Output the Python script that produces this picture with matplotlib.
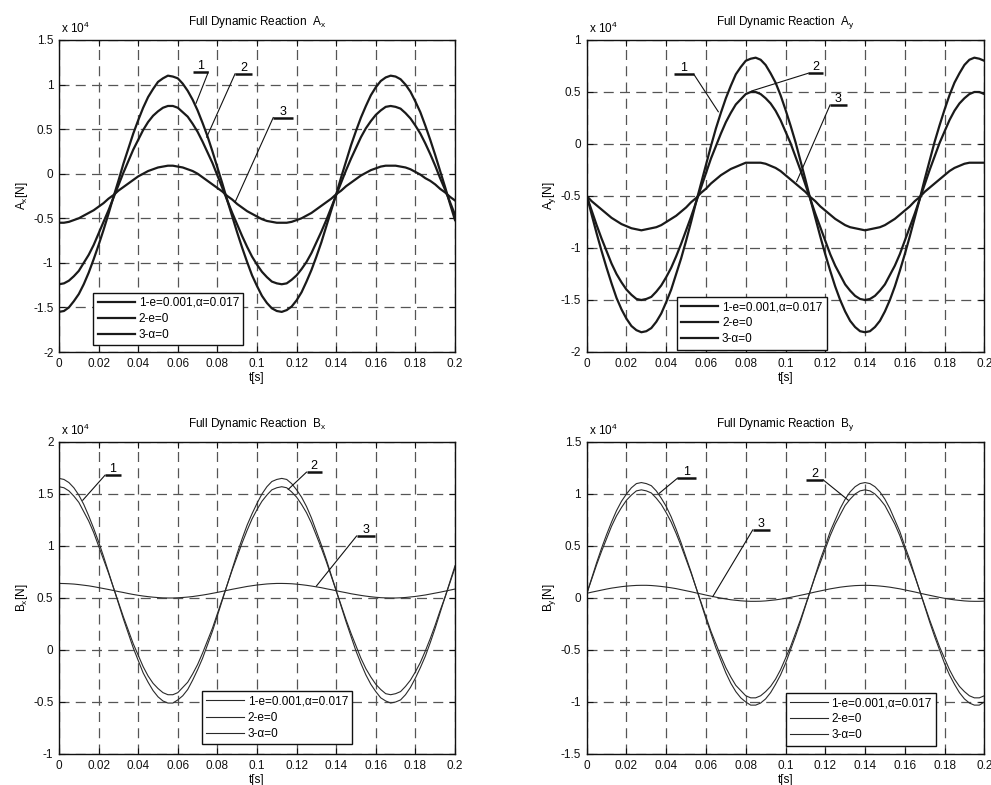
import numpy as np
import matplotlib
matplotlib.use('Agg')
import matplotlib.pyplot as plt

plt.rcParams['font.family'] = ['Liberation Sans', 'DejaVu Sans']
plt.rcParams['mathtext.default'] = 'regular'
plt.rcParams['axes.unicode_minus'] = False

# time samples [s], every 2.5 ms
t = np.linspace(0, 0.2, 81)

# ---- Full dynamic reaction A_x (x 1e4 N) ----
ax_1 = [-1.55, -1.54, -1.50, -1.43, -1.35, -1.24, -1.11, -0.96, -0.80, -0.63,
        -0.45, -0.26, -0.08, 0.11, 0.28, 0.45, 0.60, 0.74, 0.86, 0.95,
        1.03, 1.07, 1.10, 1.09, 1.07, 1.01, 0.93, 0.83, 0.71, 0.57,
        0.42, 0.25, 0.07, -0.11, -0.30, -0.48, -0.66, -0.83, -0.99, -1.14,
        -1.26, -1.37, -1.45, -1.51, -1.54, -1.55, -1.53, -1.49, -1.42, -1.33,
        -1.21, -1.08, -0.93, -0.77, -0.59, -0.41, -0.23, -0.04, 0.14, 0.32,
        0.48, 0.63, 0.76, 0.88, 0.97, 1.04, 1.08, 1.10, 1.09, 1.06,
        1.00, 0.92, 0.81, 0.69, 0.54, 0.38, 0.21, 0.03, -0.15, -0.34,
        -0.52]
ax_2 = [-1.24, -1.23, -1.20, -1.15, -1.09, -1.00, -0.91, -0.80, -0.67, -0.54,
        -0.41, -0.27, -0.13, 0.01, 0.14, 0.27, 0.38, 0.49, 0.58, 0.65,
        0.70, 0.74, 0.76, 0.76, 0.74, 0.69, 0.64, 0.56, 0.47, 0.36,
        0.24, 0.12, -0.02, -0.16, -0.30, -0.44, -0.57, -0.70, -0.82, -0.93,
        -1.02, -1.10, -1.16, -1.21, -1.23, -1.24, -1.23, -1.19, -1.14, -1.07,
        -0.99, -0.89, -0.77, -0.65, -0.52, -0.38, -0.24, -0.10, 0.04, 0.17,
        0.29, 0.41, 0.51, 0.59, 0.66, 0.71, 0.75, 0.76, 0.75, 0.73,
        0.68, 0.62, 0.54, 0.45, 0.34, 0.22, 0.09, -0.05, -0.18, -0.32,
        -0.46]
ax_3 = [-0.55, -0.55, -0.54, -0.52, -0.50, -0.47, -0.44, -0.41, -0.37, -0.33,
        -0.28, -0.24, -0.19, -0.15, -0.11, -0.07, -0.03, 0.00, 0.03, 0.05,
        0.07, 0.08, 0.09, 0.09, 0.08, 0.07, 0.05, 0.03, 0.00, -0.04,
        -0.08, -0.12, -0.16, -0.20, -0.25, -0.29, -0.34, -0.38, -0.42, -0.45,
        -0.48, -0.51, -0.53, -0.54, -0.55, -0.55, -0.55, -0.54, -0.52, -0.50,
        -0.47, -0.44, -0.40, -0.36, -0.32, -0.28, -0.23, -0.19, -0.14, -0.10,
        -0.06, -0.02, 0.01, 0.04, 0.06, 0.08, 0.09, 0.09, 0.09, 0.08,
        0.07, 0.05, 0.02, -0.01, -0.05, -0.08, -0.12, -0.17, -0.21, -0.26,
        -0.30]

# ---- Full dynamic reaction A_y ----
ay_1 = [-0.49, -0.68, -0.86, -1.03, -1.19, -1.34, -1.48, -1.59, -1.68, -1.75,
        -1.79, -1.81, -1.80, -1.77, -1.71, -1.63, -1.52, -1.40, -1.25, -1.10,
        -0.93, -0.75, -0.56, -0.38, -0.20, -0.02, 0.15, 0.30, 0.44, 0.56,
        0.67, 0.74, 0.80, 0.82, 0.83, 0.81, 0.76, 0.68, 0.59, 0.47,
        0.33, 0.18, 0.02, -0.16, -0.34, -0.53, -0.71, -0.89, -1.06, -1.22,
        -1.37, -1.50, -1.61, -1.70, -1.76, -1.80, -1.81, -1.80, -1.76, -1.70,
        -1.61, -1.50, -1.37, -1.22, -1.06, -0.89, -0.71, -0.53, -0.34, -0.16,
        0.02, 0.18, 0.33, 0.47, 0.59, 0.68, 0.76, 0.81, 0.83, 0.82,
        0.80]
ay_2 = [-0.50, -0.64, -0.78, -0.91, -1.03, -1.15, -1.25, -1.33, -1.40, -1.45,
        -1.49, -1.50, -1.49, -1.47, -1.42, -1.36, -1.28, -1.19, -1.08, -0.96,
        -0.83, -0.70, -0.56, -0.42, -0.28, -0.14, -0.02, 0.10, 0.21, 0.30,
        0.38, 0.43, 0.48, 0.50, 0.50, 0.48, 0.44, 0.39, 0.32, 0.23,
        0.12, 0.01, -0.12, -0.25, -0.39, -0.53, -0.67, -0.80, -0.93, -1.06,
        -1.17, -1.26, -1.35, -1.41, -1.46, -1.49, -1.50, -1.49, -1.46, -1.41,
        -1.35, -1.26, -1.17, -1.06, -0.93, -0.80, -0.67, -0.53, -0.39, -0.25,
        -0.12, 0.01, 0.12, 0.23, 0.32, 0.39, 0.44, 0.48, 0.50, 0.50,
        0.48]
ay_3 = [-0.50, -0.55, -0.59, -0.63, -0.67, -0.71, -0.74, -0.77, -0.79, -0.81,
        -0.82, -0.83, -0.82, -0.81, -0.80, -0.78, -0.75, -0.72, -0.69, -0.65,
        -0.61, -0.56, -0.52, -0.47, -0.43, -0.38, -0.34, -0.30, -0.27, -0.24,
        -0.22, -0.20, -0.18, -0.18, -0.18, -0.18, -0.19, -0.21, -0.23, -0.26,
        -0.30, -0.34, -0.38, -0.42, -0.46, -0.51, -0.55, -0.60, -0.64, -0.68,
        -0.72, -0.75, -0.78, -0.80, -0.81, -0.82, -0.83, -0.82, -0.81, -0.80,
        -0.78, -0.75, -0.72, -0.68, -0.64, -0.60, -0.55, -0.51, -0.46, -0.42,
        -0.38, -0.34, -0.30, -0.26, -0.23, -0.21, -0.19, -0.18, -0.18, -0.18,
        -0.18]

# ---- Full dynamic reaction B_x ----
bx_1 = [1.65, 1.64, 1.61, 1.56, 1.49, 1.40, 1.29, 1.17, 1.04, 0.90,
        0.75, 0.60, 0.45, 0.30, 0.16, 0.02, -0.10, -0.22, -0.31, -0.39,
        -0.45, -0.49, -0.51, -0.51, -0.48, -0.44, -0.38, -0.29, -0.19, -0.08,
        0.05, 0.18, 0.33, 0.48, 0.63, 0.78, 0.93, 1.07, 1.20, 1.31,
        1.41, 1.50, 1.57, 1.62, 1.64, 1.65, 1.64, 1.60, 1.54, 1.47,
        1.38, 1.27, 1.14, 1.01, 0.87, 0.72, 0.57, 0.42, 0.27, 0.13,
        -0.01, -0.13, -0.24, -0.33, -0.40, -0.46, -0.49, -0.51, -0.50, -0.48,
        -0.43, -0.36, -0.27, -0.17, -0.06, 0.07, 0.21, 0.36, 0.51, 0.66,
        0.81]
bx_2 = [1.57, 1.56, 1.53, 1.48, 1.42, 1.33, 1.24, 1.13, 1.00, 0.87,
        0.74, 0.60, 0.46, 0.32, 0.19, 0.06, -0.05, -0.16, -0.25, -0.32,
        -0.37, -0.41, -0.43, -0.43, -0.41, -0.36, -0.31, -0.23, -0.14, -0.03,
        0.09, 0.21, 0.35, 0.49, 0.63, 0.77, 0.90, 1.03, 1.15, 1.26,
        1.35, 1.43, 1.49, 1.54, 1.56, 1.57, 1.56, 1.52, 1.47, 1.40,
        1.32, 1.22, 1.10, 0.98, 0.85, 0.71, 0.57, 0.43, 0.29, 0.16,
        0.04, -0.08, -0.18, -0.26, -0.33, -0.38, -0.42, -0.43, -0.42, -0.40,
        -0.35, -0.29, -0.21, -0.12, -0.01, 0.11, 0.24, 0.38, 0.51, 0.65,
        0.79]
bx_3 = [0.640, 0.639, 0.637, 0.634, 0.629, 0.623, 0.617, 0.609, 0.600, 0.591,
        0.582, 0.572, 0.562, 0.553, 0.543, 0.534, 0.526, 0.519, 0.513, 0.508,
        0.504, 0.501, 0.500, 0.500, 0.502, 0.505, 0.509, 0.514, 0.521, 0.528,
        0.536, 0.545, 0.554, 0.564, 0.574, 0.584, 0.593, 0.602, 0.611, 0.618,
        0.625, 0.630, 0.635, 0.638, 0.640, 0.640, 0.639, 0.637, 0.633, 0.628,
        0.622, 0.615, 0.607, 0.599, 0.589, 0.580, 0.570, 0.560, 0.551, 0.541,
        0.533, 0.525, 0.518, 0.512, 0.507, 0.503, 0.501, 0.500, 0.500, 0.502,
        0.505, 0.510, 0.515, 0.522, 0.529, 0.538, 0.547, 0.556, 0.566, 0.576,
        0.586]

# ---- Full dynamic reaction B_y ----
by_1 = [0.04, 0.19, 0.34, 0.48, 0.61, 0.73, 0.84, 0.93, 1.00, 1.06,
        1.10, 1.11, 1.10, 1.08, 1.03, 0.96, 0.88, 0.78, 0.66, 0.53,
        0.39, 0.25, 0.10, -0.05, -0.20, -0.34, -0.48, -0.60, -0.72, -0.82,
        -0.90, -0.96, -1.00, -1.03, -1.03, -1.01, -0.97, -0.91, -0.83, -0.74,
        -0.63, -0.50, -0.37, -0.23, -0.08, 0.07, 0.22, 0.37, 0.50, 0.64,
        0.75, 0.86, 0.95, 1.02, 1.07, 1.10, 1.11, 1.10, 1.07, 1.02,
        0.95, 0.86, 0.75, 0.64, 0.50, 0.37, 0.22, 0.07, -0.08, -0.23,
        -0.37, -0.50, -0.63, -0.74, -0.83, -0.91, -0.97, -1.01, -1.03, -1.03,
        -1.00]
by_2 = [0.04, 0.18, 0.32, 0.45, 0.57, 0.69, 0.79, 0.87, 0.94, 0.99,
        1.03, 1.04, 1.03, 1.01, 0.96, 0.90, 0.82, 0.73, 0.62, 0.50,
        0.37, 0.24, 0.10, -0.04, -0.18, -0.32, -0.44, -0.56, -0.67, -0.76,
        -0.84, -0.89, -0.94, -0.96, -0.96, -0.94, -0.90, -0.85, -0.78, -0.69,
        -0.58, -0.47, -0.34, -0.21, -0.07, 0.07, 0.21, 0.34, 0.47, 0.60,
        0.71, 0.80, 0.89, 0.95, 1.00, 1.03, 1.04, 1.03, 1.00, 0.95,
        0.89, 0.80, 0.71, 0.60, 0.47, 0.34, 0.21, 0.07, -0.07, -0.21,
        -0.34, -0.47, -0.58, -0.69, -0.78, -0.85, -0.90, -0.94, -0.96, -0.96,
        -0.94]
by_3 = [0.045, 0.056, 0.066, 0.076, 0.086, 0.095, 0.102, 0.109, 0.114, 0.118,
        0.121, 0.122, 0.122, 0.120, 0.116, 0.111, 0.105, 0.098, 0.090, 0.080,
        0.070, 0.060, 0.049, 0.039, 0.028, 0.018, 0.008, -0.001, -0.009, -0.017,
        -0.022, -0.027, -0.030, -0.032, -0.032, -0.031, -0.028, -0.023, -0.018, -0.011,
        -0.003, 0.006, 0.016, 0.026, 0.036, 0.047, 0.058, 0.068, 0.078, 0.088,
        0.096, 0.104, 0.110, 0.115, 0.119, 0.121, 0.122, 0.121, 0.119, 0.115,
        0.110, 0.104, 0.096, 0.088, 0.078, 0.068, 0.058, 0.047, 0.036, 0.026,
        0.016, 0.006, -0.003, -0.011, -0.018, -0.023, -0.028, -0.031, -0.032, -0.032,
        -0.030]

legend_labels = ['1-e=0.001,\u03b1=0.017', '2-e=0', '3-\u03b1=0']
x_ticks = [0, 0.02, 0.04, 0.06, 0.08, 0.1, 0.12, 0.14, 0.16, 0.18, 0.2]
x_ticklabels = ['0', '0.02', '0.04', '0.06', '0.08', '0.1', '0.12', '0.14', '0.16', '0.18', '0.2']

titles = ['Full Dynamic Reaction  A$_x$', 'Full Dynamic Reaction  A$_y$',
          'Full Dynamic Reaction  B$_x$', 'Full Dynamic Reaction  B$_y$']
ylabels = ['A$_x$[N]', 'A$_y$[N]', 'B$_x$[N]', 'B$_y$[N]']
y_ticks = [[-2, -1.5, -1, -0.5, 0, 0.5, 1, 1.5],
           [-2, -1.5, -1, -0.5, 0, 0.5, 1],
           [-1, -0.5, 0, 0.5, 1, 1.5, 2],
           [-1.5, -1, -0.5, 0, 0.5, 1, 1.5]]
series = [[ax_1, ax_2, ax_3], [ay_1, ay_2, ay_3], [bx_1, bx_2, bx_3], [by_1, by_2, by_3]]

# curve labels: text, underline x0, x1, y, leader end x, y, which underline end (0 left, 1 right)
callouts = [
    [('1', 0.0678, 0.0754, 1.14, 0.0692, 0.79, 1), ('2', 0.0889, 0.0976, 1.12, 0.0746, 0.41, 0),
     ('3', 0.1082, 0.1180, 0.63, 0.0889, -0.32, 0)],
    [('1', 0.0439, 0.0539, 0.67, 0.0662, 0.31, 1), ('2', 0.1114, 0.1190, 0.68, 0.0830, 0.51, 0),
     ('3', 0.1224, 0.1307, 0.375, 0.1056, -0.362, 0)],
    [('1', 0.0232, 0.0313, 1.68, 0.0120, 1.44, 0), ('2', 0.1250, 0.1327, 1.71, 0.1158, 1.545, 0),
     ('3', 0.1503, 0.1596, 1.096, 0.1300, 0.615, 0)],
    [('1', 0.0456, 0.0550, 1.151, 0.0365, 1.007, 0), ('2', 0.1103, 0.1190, 1.135, 0.1316, 0.94, 1),
     ('3', 0.0835, 0.0922, 0.654, 0.0634, 0.013, 0)],
]

# layout
W, H = 991, 785
boxes = [(59, 40, 396, 312), (586.7, 40, 397.6, 312),
         (59, 442, 396, 312), (586.7, 442, 397.6, 312)]
legend_pos = [(0.087, 0.022), (0.226, 0.008), (0.362, 0.032), (0.501, 0.027)]
line_w = [1.6, 1.6, 0.8, 0.8]
line_c = ['#1a1a1a', '#1a1a1a', '#2a2a2a', '#2a2a2a']

fig = plt.figure(figsize=(W / 100, H / 100), dpi=100)
for i in range(4):
    x0, y0, w, h = boxes[i]
    ax = fig.add_axes([x0 / W, 1 - (y0 + h) / H, w / W, h / H])
    for k, ys in enumerate(series[i]):
        ax.plot(t, ys, color=line_c[i], lw=line_w[i], label=legend_labels[k])
    ax.set_xlim(0, 0.2)
    ax.set_ylim(y_ticks[i][0], y_ticks[i][-1])
    ax.set_xticks(x_ticks)
    ax.set_xticklabels(x_ticklabels)
    ax.set_yticks(y_ticks[i])
    ax.set_yticklabels(['%g' % v for v in y_ticks[i]])
    ax.tick_params(direction='in', top=True, right=True, length=4, width=0.8,
                   labelsize=8.5, pad=4, colors='#111111')
    ax.grid(True, color='#555555', lw=0.9, linestyle=(0, (8, 5)))
    for s in ax.spines.values():
        s.set_linewidth(1.0)
        s.set_color('#111111')
    ax.set_title(titles[i], fontsize=8.5, pad=11)
    ax.set_ylabel(ylabels[i], fontsize=8.5, labelpad=2)
    ax.set_xlabel('t[s]', fontsize=8.5, labelpad=2)
    ax.text(0.005, 1.012, 'x 10$^4$', transform=ax.transAxes, fontsize=8.5,
            ha='left', va='bottom')
    for (lab, ux0, ux1, uy, ex, ey, end) in callouts[i]:
        ax.plot([ux0, ux1], [uy, uy], color='#111111', lw=1.8, solid_capstyle='butt')
        sx = ux1 if end == 1 else ux0
        ax.plot([sx, ex], [uy, ey], color='#111111', lw=0.8)
        ax.text((ux0 + ux1) / 2, uy, lab, ha='center', va='bottom', fontsize=9)
    leg = ax.legend(loc='lower left', bbox_to_anchor=legend_pos[i], borderaxespad=0,
                    fontsize=8.5, handlelength=3.2, handletextpad=0.3, labelspacing=0.35,
                    borderpad=0.35, fancybox=False, framealpha=1, edgecolor='#111111')
    leg.get_frame().set_linewidth(1.0)

fig.savefig('out.png', dpi=100)
